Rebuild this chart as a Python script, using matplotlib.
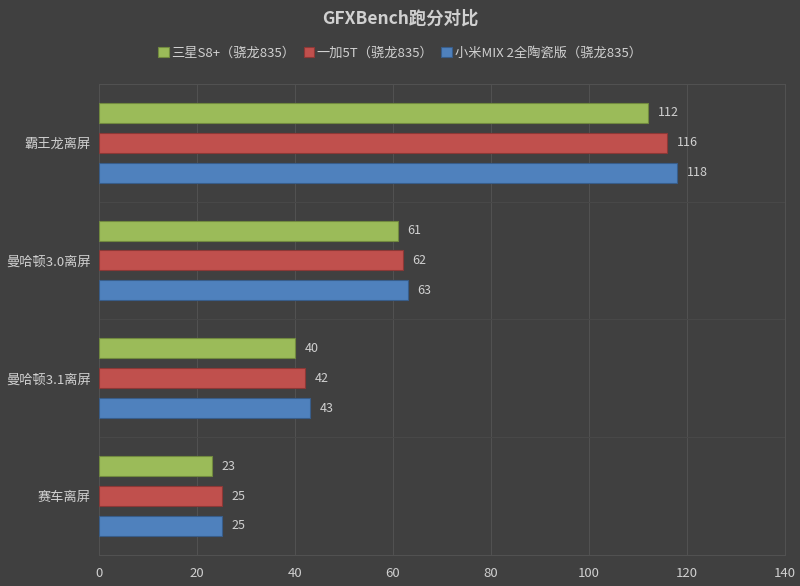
import numpy as np
import matplotlib
matplotlib.use('Agg')
import matplotlib.pyplot as plt

plt.rcParams['font.family'] = ['Noto Sans CJK SC', 'DejaVu Sans']

categories = ['霸王龙离屏', '曼哈顿3.0离屏', '曼哈顿3.1离屏', '赛车离屏']
series_names = ['三星S8+（骁龙835）', '一加5T（骁龙835）', '小米MIX 2全陶瓷版（骁龙835）']
s8_scores = [112, 61, 40, 23]
oneplus_scores = [116, 62, 42, 25]
mix2_scores = [118, 63, 43, 25]
x_ticks = [0, 20, 40, 60, 80, 100, 120, 140]

colors = ['#9BBB59', '#C0504D', '#4F81BD']
edges = ['#71893F', '#8C3836', '#385D8A']
bg = '#404040'
txt = '#D0D0D0'
grid = '#515151'

fig = plt.figure(figsize=(8, 5.86), dpi=100, facecolor=bg)
ax = fig.add_axes([0.124, 0.053, 0.857, 0.804], facecolor=bg)

y = np.arange(len(categories))
step = 0.254
h = 0.17
all_series = [s8_scores, oneplus_scores, mix2_scores]
handles = []
for i, vals in enumerate(all_series):
    pos = y + (i - 1) * step
    b = ax.barh(pos, vals, height=h, color=colors[i], edgecolor=edges[i],
                linewidth=0.8, label=series_names[i], zorder=3)
    handles.append(b)
    for p, v in zip(pos, vals):
        ax.text(v + 2, p, str(v), va='center', ha='left', color=txt, fontsize=9)

ax.set_xlim(0, 140)
ax.set_ylim(len(categories) - 0.5, -0.5)
ax.set_xticks(x_ticks)
ax.set_yticks(y)
ax.set_yticklabels(categories)
ax.set_yticks(np.arange(len(categories) + 1) - 0.5, minor=True)
ax.tick_params(axis='both', which='both', length=0, colors=txt, labelsize=9.5)
ax.tick_params(axis='x', pad=9)
ax.tick_params(axis='y', pad=6)
ax.grid(axis='x', color=grid, linewidth=0.8, zorder=0)
ax.grid(axis='y', which='minor', color='#484848', linewidth=0.8, zorder=0)
for s in ax.spines.values():
    s.set_color(grid)
    s.set_linewidth(0.8)

fig.text(0.5, 0.968, 'GFXBench跑分对比', ha='center', va='center',
         color=txt, fontsize=12.5, fontweight='bold')
fig.legend(handles=handles, loc='center', bbox_to_anchor=(0.5, 0.909), ncol=3,
           frameon=False, fontsize=9.5, labelcolor=txt, handlelength=0.8,
           handleheight=0.8, handletextpad=0.2, columnspacing=0.6)

fig.savefig('out.png', dpi=100, facecolor=bg)
